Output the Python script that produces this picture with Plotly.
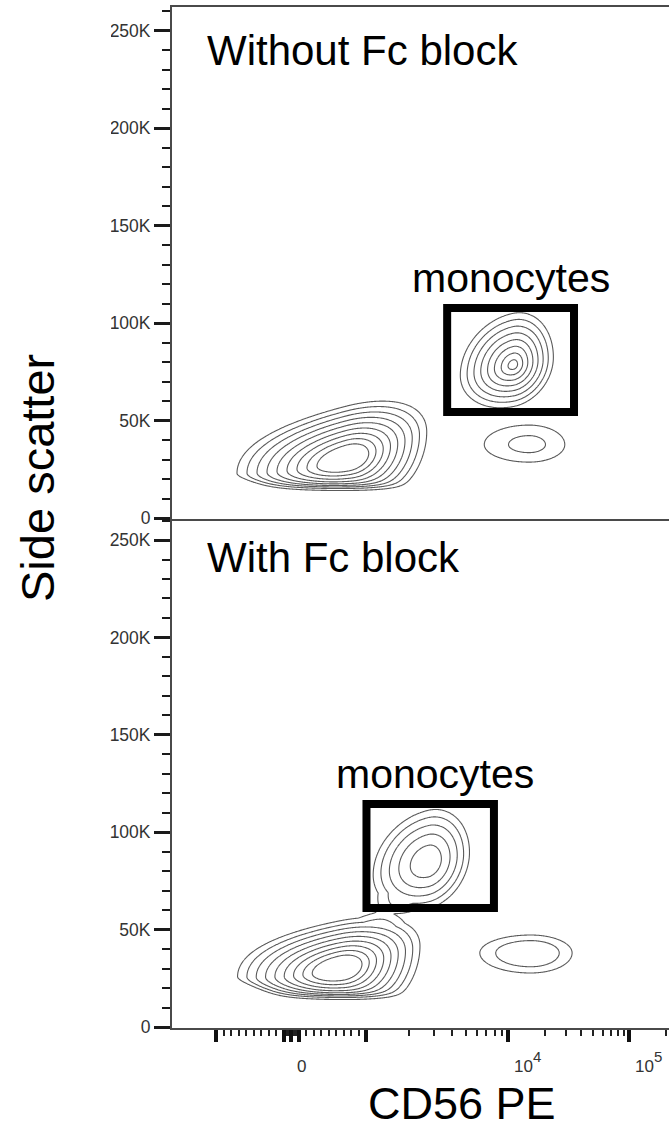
import numpy as np
import plotly.graph_objects as go

# ---------------------------------------------------------------- CD56 PE display scale
# linear around zero, logarithmic decades beyond +/-1000 (FlowJo-style biexponential)
LIN_LIMIT = 1000.0
LIN_SCALE = 0.075                      # display units per intensity unit in the linear zone
DECADE_WIDTHS = [142.0, 121.0, 121.0]  # display units for 1e3-1e4, 1e4-1e5, 1e5-1e6


def to_display(v):
    """Map CD56 PE intensities onto the biexponential display axis."""
    vals = np.atleast_1d(np.asarray(v, dtype=float))
    out = np.empty_like(vals)
    for i, x in enumerate(vals):
        a = abs(x)
        if a <= LIN_LIMIT:
            out[i] = x * LIN_SCALE
            continue
        lg = np.log10(a / LIN_LIMIT)
        k = min(int(lg), len(DECADE_WIDTHS) - 1)
        d = LIN_LIMIT * LIN_SCALE + sum(DECADE_WIDTHS[:k]) + (lg - k) * DECADE_WIDTHS[k]
        out[i] = np.sign(x) * d
    return out if np.ndim(v) else out[0]


CD56_LOWER_LIMIT = -2057      # left end of the CD56 PE axis

# ---------------------------------------------------------------- axis ticks
CD56_MAJOR = [-1000, -100, 0, 100, 1000, 10000, 100000]
CD56_LABEL_VALUES = [0, 10000, 100000]
CD56_LABEL_BASES = ["0", "10", "10"]
CD56_LABEL_EXPONENTS = ["", "4", "5"]
CD56_MINOR = ([-900, -800, -700, -600, -500, -400, -300, -200, -75, -50, -25,
               25, 50, 75, 200, 300, 400, 500, 600, 700, 800, 900]
              + [2000, 3000, 4000, 5000, 6000, 7000, 8000, 9000]
              + [20000, 30000, 40000, 50000, 60000, 70000, 80000, 90000, 200000])
SSC_MAJOR = [0, 50000, 100000, 150000, 200000, 250000]
SSC_MAJOR_TEXT = ["0", "50K", "100K", "150K", "200K", "250K"]

# ---------------------------------------------------------------- event density
# one entry per population component:
#   CD56 PE centre, SSC centre,
#   CD56 reach to the left / right (display units), SSC reach downwards / upwards,
#   SSC drift per display unit and its curvature, widening of the downward reach to the right,
#   peak height (contour steps), profile exponent (1 = conical, 2 = dome)
WITHOUT_CD56 = [740, 11000, 14800]
WITHOUT_SSC = [30000, 78500, 37700]
WITHOUT_REACH_LEFT = [120, 60, 69]
WITHOUT_REACH_RIGHT = [87, 45, 55]
WITHOUT_REACH_DOWN = [24000, 24000, 13900]
WITHOUT_REACH_UP = [30000, 30000, 15400]
WITHOUT_DRIFT = [130, 100, 0]
WITHOUT_BEND = [0.6, 0.0, 0.0]
WITHOUT_TAPER = [0.75, 0.0, 0.0]
WITHOUT_PEAK = [12.0, 8.8, 2.85]
WITHOUT_PROFILE = [1, 1, 1]

WITH_CD56 = [650, 2710, 1350, 15300]
WITH_SSC = [29800, 84700, 60000, 38000]
WITH_REACH_LEFT = [112, 62, 30, 63]
WITH_REACH_RIGHT = [87, 47, 30, 51]
WITH_REACH_DOWN = [24000, 27000, 9000, 12700]
WITH_REACH_UP = [27000, 30000, 9000, 11400]
WITH_DRIFT = [100, 120, 0, 0]
WITH_BEND = [0.6, 0.0, 0.0, 0.0]
WITH_TAPER = [0.75, 0.0, 0.0, 0.0]
WITH_PEAK = [12.0, 5.9, 1.5, 2.9]
WITH_PROFILE = [1, 1.5, 1, 2]

FLOOR_SSC = 15500      # side-scatter threshold where events pile up
FLOOR_WIDTH = 1200

# rectangular gates: (low, high) in CD56 PE and SSC
GATE_CD56 = [(3700, 34800), (1000, 7900)]
GATE_SSC = [(54400, 107800), (61100, 114500)]

PANEL_TITLES = ["Without Fc block", "With Fc block"]
GATE_LABEL = "monocytes"
X_TITLE = "CD56 PE"
Y_TITLE = "Side scatter"

FONT = "Arial, 'Liberation Sans', Helvetica, sans-serif"

# ---------------------------------------------------------------- geometry (pixels)
W, H = 669, 1129
M_L, M_R, M_T, M_B = 172, 0, 7, 101
PLOT_W = W - M_L - M_R
PLOT_H = H - M_T - M_B
SPLIT = (1028 - 519) / PLOT_H          # boundary between the two panels


def px_x(px):
    return (px - M_L) / PLOT_W


def px_y(py):
    return (H - M_B - py) / PLOT_H


grid_x = np.arange(-95.0, 335.0, 1.0)
grid_y = np.arange(0.0, 140000.0, 400.0)
GX, GY = np.meshgrid(grid_x, grid_y)


def density(cd56, ssc, rl, rr, rd, ru, drift, bend, taper, peak, profile):
    z = np.zeros_like(GX)
    cx = to_display(cd56)
    for x0, y0, a_l, a_r, b_d, b_u, s, c, t, a, p in zip(
            cx, ssc, rl, rr, rd, ru, drift, bend, taper, peak, profile):
        dx = GX - x0
        dy = GY - y0 - s * dx - c * dx * dx
        u = np.where(dx < 0, dx / a_l, dx / a_r)
        down = b_d * np.clip(1.0 + t * u, 0.25, None)
        w = np.where(dy < 0, dy / down, dy / b_u)
        r = np.sqrt(u * u + w * w)
        z += a * np.clip(1.0 - r ** p, 0.0, None)
    z *= 1.0 / (1.0 + np.exp(-(GY - FLOOR_SSC) / FLOOR_WIDTH))
    return np.round(z, 3)


z_top = density(WITHOUT_CD56, WITHOUT_SSC, WITHOUT_REACH_LEFT, WITHOUT_REACH_RIGHT,
                WITHOUT_REACH_DOWN, WITHOUT_REACH_UP, WITHOUT_DRIFT, WITHOUT_BEND,
                WITHOUT_TAPER, WITHOUT_PEAK, WITHOUT_PROFILE)
z_bot = density(WITH_CD56, WITH_SSC, WITH_REACH_LEFT, WITH_REACH_RIGHT,
                WITH_REACH_DOWN, WITH_REACH_UP, WITH_DRIFT, WITH_BEND,
                WITH_TAPER, WITH_PEAK, WITH_PROFILE)

fig = go.Figure()
contour_style = dict(
    contours=dict(start=1, end=9, size=1, coloring="none"),
    line=dict(color="#5a5a5a", width=1.1, smoothing=0.8),
    showscale=False,
    hoverinfo="skip",
)
fig.add_trace(go.Contour(x=grid_x, y=grid_y, z=z_top, xaxis="x2", yaxis="y2", **contour_style))
fig.add_trace(go.Contour(x=grid_x, y=grid_y, z=z_bot, xaxis="x", yaxis="y", **contour_style))

x_lo = float(to_display(CD56_LOWER_LIMIT))
x_range = [x_lo, x_lo + PLOT_W]   # panel runs to the page edge

axis_line = dict(showline=True, linecolor="#4a4a4a", linewidth=2, showgrid=False, zeroline=False)
y_common = dict(
    tickmode="array", tickvals=SSC_MAJOR, ticktext=SSC_MAJOR_TEXT,
    ticks="outside", ticklen=16, tickwidth=3, tickcolor="#1a1a1a",
    tickfont=dict(family=FONT, size=17.5, color="#333333"),
    minor=dict(ticks="outside", dtick=10000, tick0=0, ticklen=8, tickwidth=2, tickcolor="#1a1a1a"),
    **axis_line,
)

fig.update_layout(
    width=W, height=H,
    margin=dict(l=M_L, r=M_R, t=M_T, b=M_B),
    paper_bgcolor="white", plot_bgcolor="white",
    showlegend=False,
    xaxis=dict(
        domain=[0, 1], anchor="y", range=x_range,
        tickmode="array", tickvals=list(to_display(CD56_MAJOR)), showticklabels=False,
        ticks="outside", ticklen=12, tickwidth=3.5, tickcolor="#111111",
        minor=dict(ticks="outside", tickmode="array", tickvals=list(to_display(CD56_MINOR)),
                   ticklen=6, tickwidth=2, tickcolor="#222222"),
        **axis_line,
    ),
    xaxis2=dict(domain=[0, 1], anchor="y2", matches="x", range=x_range, mirror=True,
                ticks="", showticklabels=False, **axis_line),
    yaxis=dict(domain=[0, SPLIT], anchor="x", range=[-513, 260800], **y_common),
    yaxis2=dict(domain=[SPLIT, 1], anchor="x2", range=[-513, 262300], **y_common),
)

# CD56 PE tick labels (base and raised exponent), set just to the right of their ticks
for v, base, expo in zip(CD56_LABEL_VALUES, CD56_LABEL_BASES, CD56_LABEL_EXPONENTS):
    xv = float(to_display(v))
    fig.add_annotation(xref="x", yref="paper", x=xv, y=px_y(1078),
                       xanchor="left", yanchor="bottom", xshift=4, text=base, showarrow=False,
                       font=dict(family=FONT, size=17, color="#333333"))
    if expo:
        fig.add_annotation(xref="x", yref="paper", x=xv, y=px_y(1067),
                           xanchor="left", yanchor="bottom", xshift=23, text=expo, showarrow=False,
                           font=dict(family=FONT, size=15, color="#333333"))

# gates
for (gx, gy, xr, yr, shift) in [(GATE_CD56[0], GATE_SSC[0], "x2", "y2", 0),
                                (GATE_CD56[1], GATE_SSC[1], "x", "y", 5)]:
    d0, d1 = to_display(list(gx))
    fig.add_shape(type="rect", xref=xr, yref=yr, x0=d0, x1=d1, y0=gy[0], y1=gy[1],
                  line=dict(color="black", width=8), fillcolor="rgba(0,0,0,0)", layer="above")
    fig.add_annotation(xref=xr, yref=yr, x=(d0 + d1) / 2, y=gy[1], yanchor="bottom",
                       text=GATE_LABEL, showarrow=False, yshift=5, xshift=shift,
                       font=dict(family=FONT, size=41, color="black"))

# panel titles
for title, ypx in zip(PANEL_TITLES, [50, 557]):
    fig.add_annotation(xref="paper", yref="paper", x=px_x(205), y=px_y(ypx),
                       xanchor="left", yanchor="middle", text=title, showarrow=False,
                       font=dict(family=FONT, size=42, color="black"))

# axis titles
fig.add_annotation(xref="paper", yref="paper", x=px_x(37), y=px_y(478), textangle=-90,
                   xanchor="center", yanchor="middle", text=Y_TITLE, showarrow=False,
                   font=dict(family=FONT, size=47, color="black"))
fig.add_annotation(xref="paper", yref="paper", x=px_x(462), y=px_y(1103),
                   xanchor="center", yanchor="middle", text=X_TITLE, showarrow=False,
                   font=dict(family=FONT, size=45, color="black"))

# top-panel tick labels are trimmed on their left edge
fig.add_shape(type="rect", xref="paper", yref="paper", x0=px_x(-5), x1=px_x(111),
              y0=px_y(503), y1=px_y(-5), fillcolor="white", line=dict(width=0), layer="above")

fig.write_html("out.html")
